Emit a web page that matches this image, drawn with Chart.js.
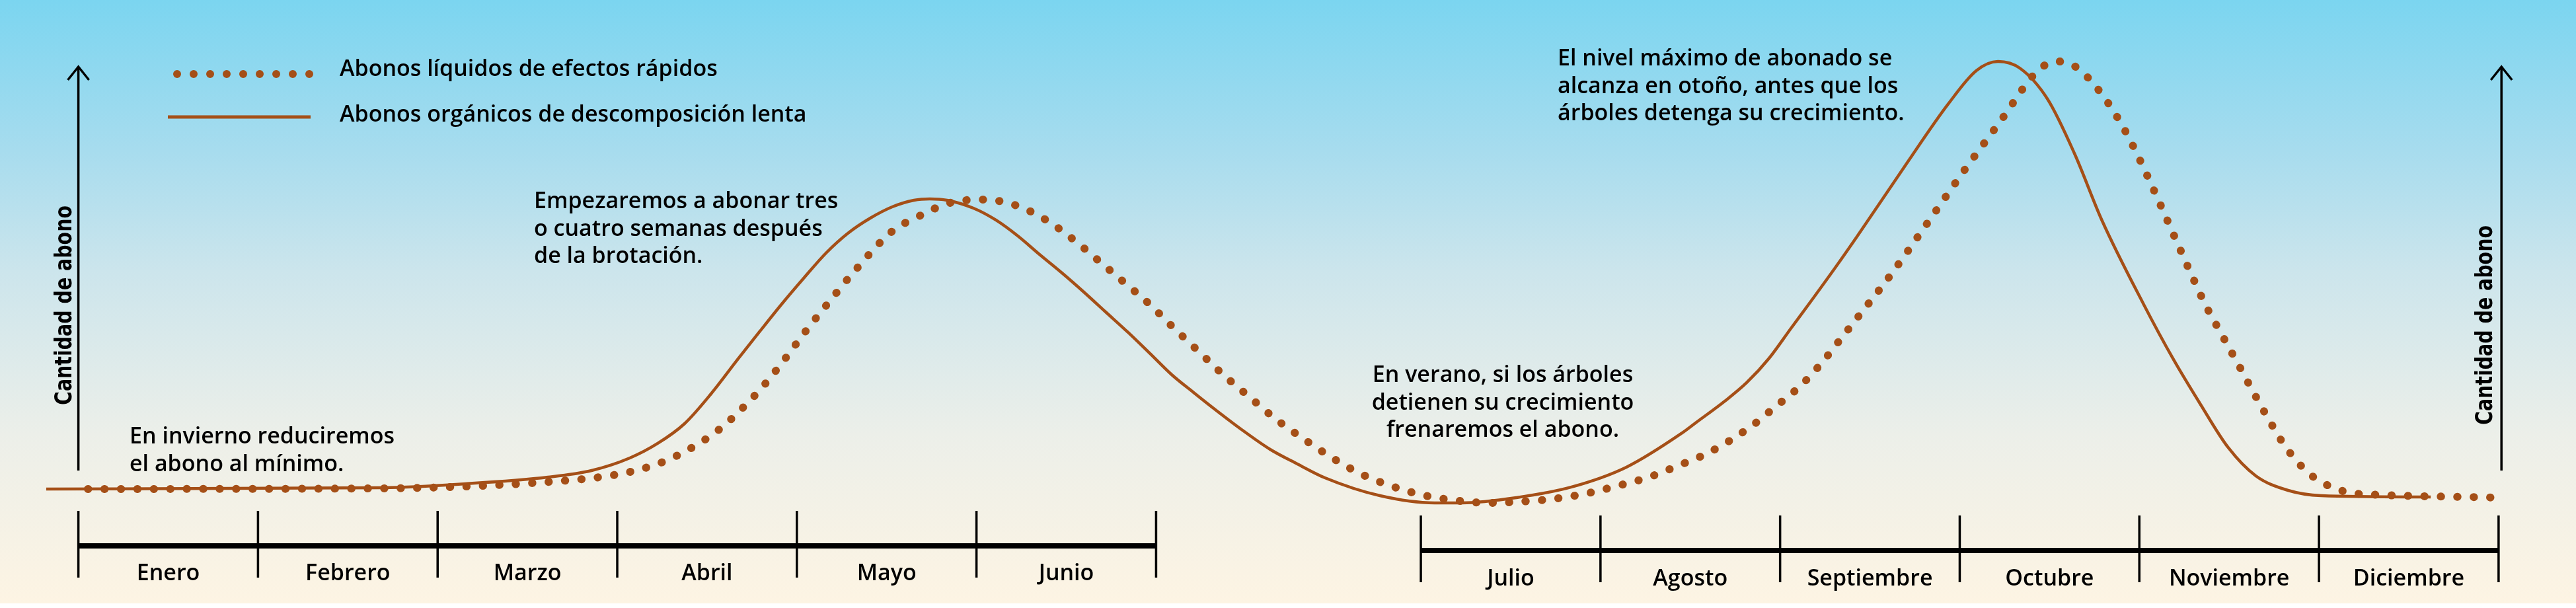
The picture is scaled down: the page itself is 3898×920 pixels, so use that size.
<!DOCTYPE html>
<html lang="es">
<head>
<meta charset="utf-8">
<title>Abonado a lo largo del año</title>
<script src="https://cdn.jsdelivr.net/npm/chart.js@4.4.0/dist/chart.umd.min.js"></script>
<style>
  html, body { margin: 0; padding: 0; background: #fff; }
  canvas { display: block; }
</style>
</head>
<body>
<canvas id="abonoChart" width="3898" height="920"></canvas>
<script>
// x: posición en anchos de mes desde el 1 de enero (el segundo semestre va desplazado)
// y: cantidad de abono, escala relativa (0 = mínimo de verano, 100 = máximo de otoño)
const organicX = [-0.179, 1.698, 2.157, 2.614, 2.857, 3.070, 3.225, 3.375, 3.522, 3.673,
  3.795, 3.916, 4.041, 4.162, 4.284, 4.409, 4.531, 4.652, 4.740, 4.836, 4.983, 5.108,
  5.230, 5.351, 5.476, 5.598, 5.719, 5.844, 5.966, 6.087, 6.209, 6.330, 6.481, 6.635,
  6.786, 6.940, 7.246, 7.551, 7.702, 8.007, 8.313, 8.618, 8.924, 9.008, 9.166, 9.288,
  9.413, 9.534, 9.656, 9.781, 9.902, 10.167, 10.411, 10.566, 10.687, 10.808, 10.963,
  11.114, 11.265, 11.497, 11.662, 11.817, 11.968, 12.122, 12.302, 12.486, 13.096];
const organicY = [3.72, 4.02, 4.91, 6.40, 7.89, 10.71, 13.99, 18.45, 25.15, 33.04,
  39.29, 45.39, 51.34, 56.85, 61.31, 64.73, 67.26, 68.75, 69.05, 68.75, 66.96, 64.29,
  60.71, 56.55, 52.38, 48.07, 43.60, 38.99, 34.23, 29.46, 25.45, 21.58, 16.96, 12.65,
  9.38, 6.25, 2.23, 0.60, 0.60, 1.79, 4.17, 8.63, 16.22, 18.75, 23.51, 27.68,
  33.18, 39.88, 46.58, 53.57, 60.57, 76.34, 90.48, 97.92, 100.0, 98.51, 91.52,
  79.17, 64.29, 45.39, 33.04, 22.62, 13.10, 6.70, 3.42, 2.23, 1.93];

const liquidX = [0.053, 1.698, 2.172, 2.628, 2.904, 3.088, 3.254, 3.412, 3.567, 3.699,
  3.820, 3.934, 4.041, 4.155, 4.328, 4.531, 4.681, 4.851, 5.042, 5.222, 5.388, 5.542,
  5.682, 5.825, 5.962, 6.101, 6.238, 6.374, 6.517, 6.661, 6.815, 6.970, 7.132, 7.305,
  7.482, 7.662, 7.846, 8.030, 8.210, 8.391, 8.571, 8.744, 8.913, 9.083, 9.314, 9.450,
  9.583, 9.700, 9.811, 9.921, 10.087, 10.293, 10.499, 10.712, 10.874, 10.940, 11.021,
  11.106, 11.179, 11.293, 11.389, 11.470, 11.547, 11.621, 11.694, 11.768, 11.845,
  11.930, 12.018, 12.106, 12.195, 12.290, 12.408, 12.478, 12.563, 12.651, 12.743, 13.468];
const liquidY = [3.72, 3.87, 4.32, 5.36, 6.40, 7.74, 9.82, 12.95, 17.11, 22.02,
  27.23, 33.04, 38.84, 44.64, 53.12, 61.76, 65.18, 68.15, 68.90, 67.56, 64.29, 59.82,
  55.06, 50.15, 45.39, 39.88, 34.67, 29.46, 24.55, 19.64, 15.18, 11.01, 7.29, 4.46,
  2.38, 1.19, 0.60, 0.89, 1.49, 2.68, 4.46, 6.40, 9.08, 12.05, 17.86, 22.32,
  26.79, 31.85, 37.50, 43.15, 51.79, 63.54, 75.45, 87.20, 96.43, 98.96, 100.0,
  99.11, 96.73, 91.07, 84.82, 78.42, 71.73, 65.03, 58.33, 51.64, 44.94,
  38.69, 32.29, 25.74, 19.35, 13.10, 7.59, 5.51, 3.87, 2.83, 2.53, 1.79];

const legendLabels = ['Abonos líquidos de efectos rápidos', 'Abonos orgánicos de descomposición lenta'];
const monthsFirstHalf = ['Enero', 'Febrero', 'Marzo', 'Abril', 'Mayo', 'Junio'];
const monthsSecondHalf = ['Julio', 'Agosto', 'Septiembre', 'Octubre', 'Noviembre', 'Diciembre'];
const axisTitle = 'Cantidad de abono';

const noteWinter = ['En invierno reduciremos', 'el abono al mínimo.'];
const noteSpring = ['Empezaremos a abonar tres', 'o cuatro semanas después', 'de la brotación.'];
const noteSummer = ['En verano, si los árboles', 'detienen su crecimiento', 'frenaremos el abono.'];
const noteAutumn = ['El nivel máximo de abonado se', 'alcanza en otoño, antes que los', 'árboles detenga su crecimiento.'];

const BROWN = '#a54f17';
const TEXT_FONT = '600 34px "Open Sans"';
const SECOND_HALF_START = 7.474;

function toPoints(xs, ys) {
  return xs.map((x, i) => ({ x: x, y: ys[i] }));
}

function drawLines(ctx, lines, x, y, align) {
  ctx.save();
  ctx.font = TEXT_FONT;
  ctx.fillStyle = '#000';
  ctx.textAlign = align;
  ctx.textBaseline = 'alphabetic';
  lines.forEach((t, i) => ctx.fillText(t, x, y + i * 41.5));
  ctx.restore();
}

function drawArrowAxis(ctx, x) {
  ctx.save();
  ctx.strokeStyle = '#000';
  ctx.lineWidth = 3.5;
  ctx.beginPath();
  ctx.moveTo(x, 712);
  ctx.lineTo(x, 102);
  ctx.stroke();
  ctx.beginPath();
  ctx.moveTo(x - 16, 121);
  ctx.lineTo(x, 101);
  ctx.lineTo(x + 16, 121);
  ctx.stroke();
  ctx.restore();
}

function drawAxisTitle(ctx, x, y) {
  ctx.save();
  ctx.translate(x, y);
  ctx.rotate(-Math.PI / 2);
  ctx.scale(0.79, 1);
  ctx.font = 'bold 36px "DejaVu Sans"';
  ctx.fillStyle = '#000';
  ctx.textAlign = 'center';
  ctx.textBaseline = 'alphabetic';
  ctx.fillText(axisTitle, 0, 0);
  ctx.restore();
}

function drawMonthAxis(ctx, xScale, months, start, barY, labelY) {
  const x0 = xScale.getPixelForValue(start);
  const x1 = xScale.getPixelForValue(start + months.length);
  ctx.save();
  ctx.fillStyle = '#000';
  ctx.fillRect(x0, barY - 4, x1 - x0, 8);
  ctx.strokeStyle = '#000';
  ctx.lineWidth = 3.5;
  for (let i = 0; i <= months.length; i++) {
    const px = xScale.getPixelForValue(start + i);
    ctx.beginPath();
    ctx.moveTo(px, barY - 53);
    ctx.lineTo(px, barY + 48);
    ctx.stroke();
  }
  ctx.font = TEXT_FONT;
  ctx.textAlign = 'center';
  ctx.textBaseline = 'alphabetic';
  months.forEach((m, i) => {
    ctx.fillText(m, xScale.getPixelForValue(start + i + 0.5), labelY);
  });
  ctx.restore();
}

const backgroundPlugin = {
  id: 'fondo',
  beforeDraw(chart) {
    const ctx = chart.ctx;
    const g = ctx.createLinearGradient(0, 0, 0, 913);
    g.addColorStop(0, '#7bd5f0');
    g.addColorStop(0.25, '#a7dcee');
    g.addColorStop(0.45, '#cce5ec');
    g.addColorStop(0.72, '#ecefe9');
    g.addColorStop(1, '#fdf4e3');
    ctx.save();
    ctx.fillStyle = '#fff';
    ctx.fillRect(0, 0, chart.width, chart.height);
    ctx.fillStyle = g;
    ctx.fillRect(0, 0, chart.width, 913);
    ctx.restore();
  }
};

const decorPlugin = {
  id: 'decoracion',
  afterDraw(chart) {
    const ctx = chart.ctx;
    const xs = chart.scales.x;

    drawArrowAxis(ctx, xs.getPixelForValue(0));
    drawArrowAxis(ctx, xs.getPixelForValue(13.49));
    drawAxisTitle(ctx, 108, 462);
    drawAxisTitle(ctx, 3771, 492);

    drawMonthAxis(ctx, xs, monthsFirstHalf, 0, 826, 878);
    drawMonthAxis(ctx, xs, monthsSecondHalf, SECOND_HALF_START, 833, 886);

    // leyenda
    const liquid = chart.data.datasets[0];
    const organic = chart.data.datasets[1];
    ctx.save();
    ctx.fillStyle = liquid.borderColor;
    for (let k = 0; k < 9; k++) {
      ctx.beginPath();
      ctx.arc(268 + k * 25, 112, 6, 0, Math.PI * 2);
      ctx.fill();
    }
    ctx.strokeStyle = organic.borderColor;
    ctx.lineWidth = 5;
    ctx.beginPath();
    ctx.moveTo(254, 177);
    ctx.lineTo(470, 177);
    ctx.stroke();
    ctx.restore();
    drawLines(ctx, [legendLabels[0]], 514, 115, 'left');
    drawLines(ctx, [legendLabels[1]], 514, 184, 'left');

    drawLines(ctx, noteWinter, 196, 671, 'left');
    drawLines(ctx, noteSpring, 808, 315, 'left');
    drawLines(ctx, noteSummer, 2274, 578, 'center');
    drawLines(ctx, noteAutumn, 2357, 99, 'left');
  }
};

const ctx = document.getElementById('abonoChart').getContext('2d');
const chart = new Chart(ctx, {
  type: 'line',
  data: {
    datasets: [
      {
        label: legendLabels[0],
        data: toPoints(liquidX, liquidY),
        borderColor: BROWN,
        borderWidth: 12,
        borderDash: [0.5, 24.4],
        borderCapStyle: 'round',
        pointRadius: 0,
        cubicInterpolationMode: 'monotone',
        fill: false
      },
      {
        label: legendLabels[1],
        data: toPoints(organicX, organicY),
        borderColor: BROWN,
        borderWidth: 4.5,
        pointRadius: 0,
        cubicInterpolationMode: 'monotone',
        fill: false
      }
    ]
  },
  options: {
    responsive: false,
    animation: false,
    devicePixelRatio: 1,
    layout: { padding: 0 },
    plugins: {
      legend: { display: false },
      tooltip: { enabled: false }
    },
    scales: {
      x: { type: 'linear', min: -0.4364, max: 13.905, display: false },
      y: { type: 'linear', min: -23.07, max: 113.84, display: false }
    }
  },
  plugins: [backgroundPlugin, decorPlugin]
});
</script>
</body>
</html>
